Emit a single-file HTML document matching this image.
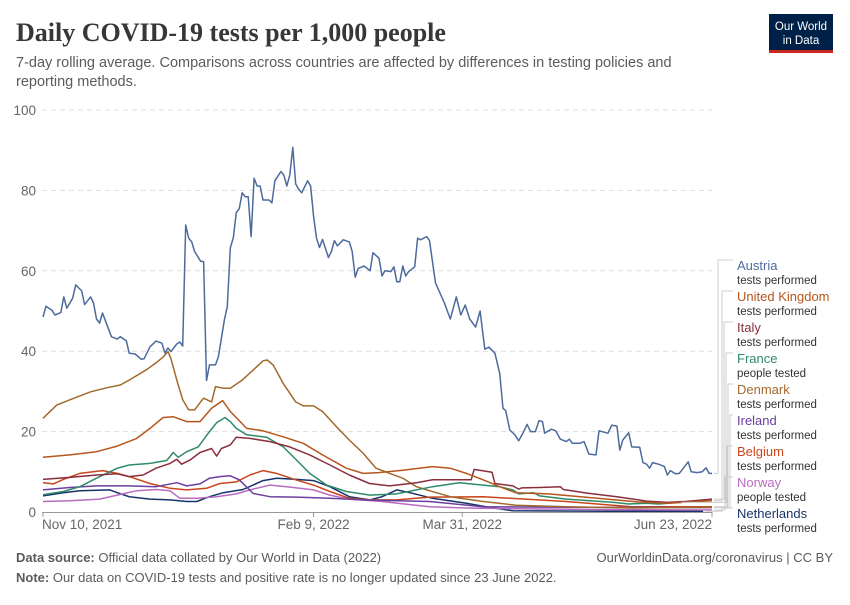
<!DOCTYPE html>
<html><head><meta charset="utf-8">
<style>
body{margin:0;width:850px;height:600px;background:#fff;font-family:"Liberation Sans",sans-serif;overflow:hidden}
svg text{font-family:"Liberation Sans",sans-serif}
</style></head>
<body>
<svg id="chart" width="850" height="600">
<text x="16" y="41" font-size="26" font-weight="bold" fill="#373737" style="font-family:'Liberation Serif',serif">Daily COVID-19 tests per 1,000 people</text>
<text x="16" y="67" font-size="14.5" fill="#5b5b5b">7-day rolling average. Comparisons across countries are affected by differences in testing policies and</text>
<text x="16" y="86" font-size="14.5" fill="#5b5b5b">reporting methods.</text>
<g>
<rect x="769" y="14" width="64" height="36" fill="#002147"/>
<rect x="769" y="50" width="64" height="3" fill="#ce261e"/>
<text x="801" y="30" font-size="11.5" fill="#fff" text-anchor="middle">Our World</text>
<text x="801" y="44" font-size="11.5" fill="#fff" text-anchor="middle">in Data</text>
</g>
<g id="grid"></g>
<g id="series"></g>
<g id="labels"></g>
<text x="16" y="562" font-size="13" fill="#5b5b5b"><tspan font-weight="bold">Data source:</tspan> Official data collated by Our World in Data (2022)</text>
<text x="833" y="562" font-size="13" fill="#5b5b5b" text-anchor="end">OurWorldinData.org/coronavirus | CC BY</text>
<text x="16" y="582" font-size="13" fill="#5b5b5b"><tspan font-weight="bold">Note:</tspan> Our data on COVID-19 tests and positive rate is no longer updated since 23 June 2022.</text>
</svg>
<script>
const yTicks=[0,20,40,60,80,100];
const xTickDays=[0,91,141,225];
const xTickLabels=["Nov 10, 2021","Feb 9, 2022","Mar 31, 2022","Jun 23, 2022"];
const seriesNames=["Austria","United Kingdom","Italy","France","Denmark","Ireland","Belgium","Norway","Netherlands"];
const seriesMetrics=["tests performed","tests performed","tests performed","people tested","tests performed","tests performed","tests performed","people tested","tests performed"];
const seriesColors=["#4c6a9c","#b5561d","#8b2e3c","#2e8b6a","#a2692d","#6b3fa0","#c8461b","#b86cc0","#18336a"];
const austriaDays=[0,1,3,4,6,7,8,10,11,13,14,16,17,18,19,20,23,25,26,28,29,31,33,34,36,38,40,41,42,43,45,46,47,48,49,50,51,53,54,55,56,58,59,61,62,63,64,65,66,67,68,69,70,71,72,73,74,76,77,78,80,81,82,83,84,85,86,87,89,90,91,92,93,94,96,97,98,99,101,103,104,105,106,108,110,111,113,114,115,117,118,119,120,121,122,123,125,126,127,129,130,132,135,137,139,140.5,142,143.5,145.5,147,148.6,150,152,153.6,154.7,155.6,157,158.7,160,161.4,162.8,164,165.6,166.8,168,168.7,171,172.4,174,176,177,178,180.5,182,183.6,186,187,190,191.3,193,194,195,197,198,200.7,201.8,203,204,205,207,209,210,211,212.7,214,217,218,220,221.7,223,224,225];
const austriaVals=[48.5,51.2,50.2,49,49.6,53.5,50.7,53.2,56.5,55,51.6,53.5,52,48,47,49.5,43.6,43,43.6,42.6,39.5,39.3,38,38.1,41.1,42.5,42,39.6,40.8,39.9,41.8,42.3,41.3,71.4,68.1,67.2,64.8,62.4,62.3,32.7,36.6,36.6,38.6,47.8,51.1,65.7,68.2,74.5,75.4,79.4,78.4,78.4,68.5,83,81.1,81.1,77.6,77.6,76.9,82.4,84.7,83.8,81.1,83.8,90.7,81.6,80.3,79.4,82.4,81.1,73.5,68.1,65.8,67.8,63.3,64.8,67.5,66.2,67.7,67.2,64.8,58.4,60.6,61.2,60,64.5,63.1,58.7,60,59.8,61,57.3,57.3,61.2,58.7,59.8,61,68.1,67.7,68.5,67.5,57,52,48,53.5,49,51.5,48,46,50,40.5,41,39.5,34.5,25.8,25.2,20.4,19.2,17.7,19.6,21.8,20,20,22.7,22.5,19.6,20.6,20.2,18.1,17.5,18.1,17.1,17.1,17.5,14.4,14.2,20.2,19.6,21.6,21.4,15.4,17.9,19.7,16.2,16.1,12.3,11.9,10.9,12.3,11.9,11.3,9.2,10.3,9.5,9.6,12.5,10,9.8,10,11,9.6,9.6];
const ukDays=[0,9,18,25,31.5,36,40.4,43.8,48.3,52.8,56.7,59,60.4,63,68.5,74,80.8,87.5,94,102,107.7,113,121,131,137,142.4,148,153.6,159,170,185,200,210,225];
const ukVals=[13.6,14.2,15,16.4,18.3,20.8,23.5,23.7,22.5,22.5,25.8,27,27.7,25,20.8,20.2,18.7,17.1,14.2,10.9,9.6,9.8,10.4,11.3,10.9,9.6,8,6.3,4.8,4.5,3.5,2.5,2.2,2.8];
const italyDays=[0,9,18,25,29,33.7,38,42.7,45,46.6,49.4,52.8,56.7,58.4,60,63,65,69.6,76.3,83,89.7,96.5,103,109.8,116.6,125.6,131,137,144,145,151,152,158,160,161,167,174,175,183,193,203,210,216,225];
const italyVals=[8.1,8.6,9.2,9.5,8.8,9.2,10.9,12.1,13.1,11.9,12.9,14.8,15.8,13.9,15.8,16.7,18.6,18.3,17.5,16.2,14.2,11.7,9.2,7.1,6.5,7.3,8,8,8,10.6,9.9,7.1,6.5,5.7,6,6.1,6.3,5.6,4.7,3.8,2.7,2.4,2.6,3.2];
const franceDays=[0,6.8,12.4,18,25,29,36,41.6,43.8,45.5,48.3,52.2,56,58.4,61.2,63,65,68.5,75.2,80.8,85.3,89.7,95.4,102,110,118.9,131,140,148,153.6,158,160,165,167,176,192,197,203,207,214];
const franceVals=[4.3,5.1,6.3,8.4,10.9,11.7,12.1,12.8,14.8,13.6,15,16.2,20,22.2,23.5,22.5,20.8,19.2,18.6,16.2,12.9,9.6,6.7,5.1,4.2,4.5,6.3,7.3,6.7,6.3,5.5,4.5,4.8,4,3.2,2.4,2,2.2,2,2.4];
const denmarkDays=[0,4.6,9,16,21.4,26,29,35,38,40.5,42,43,45,47,49,51,53,54,56.7,58,60.6,63,67,70.7,74,75.4,77.4,80.8,85,87.5,91,94,98.7,103,107.7,112,116.6,121,125.6,130,137,148,159,176,198,225];
const denmarkVals=[23.3,26.6,27.9,29.9,30.9,31.6,32.8,35.5,37.1,38.6,39.9,38.2,32.8,27.9,25.4,25.4,27.4,28.3,27.4,31.2,30.8,30.8,32.8,35.3,37.6,37.8,36.6,32,27.4,26.4,26.4,25,21.2,17.9,14.6,10.9,9.6,8.4,6.3,5.3,3.8,2.6,1.7,1.3,1,1.2];
const irelandDays=[0,9,18,29,38,45,48.3,52.8,56,59.5,63,66,70.7,76.3,85.3,96.5,107.7,119,130,148,176,225];
const irelandVals=[5.5,6.1,6.5,6.5,6.3,7.3,6.5,7,8.4,8.8,9,8,4.6,3.8,3.7,3.4,3,2.8,2.6,1.3,1.2,1.1];
const belgiumDays=[0,3.5,6.8,12.4,20,25,29,36,42.7,48.3,55,59.5,65,69.6,74,78.6,85,91,96.5,103,110,119,130,148,176,198,225];
const belgiumVals=[7.3,7,8.1,9.6,10.3,9.6,8.8,7.1,5.9,5.5,5.9,7.1,7.5,9.2,10.3,9.6,8,6.7,5.1,3.4,3,3,3.7,3.8,2.6,1.3,1.3];
const norwayDays=[0,9,19,25,31.5,38,42.7,46,51.7,58.4,65,69.6,76.3,82,91,96.5,103,114,130,142,160,190,225];
const norwayVals=[2.6,2.8,3.2,4.2,5.3,5.6,5.3,3.4,3.4,3.8,4.5,5.5,6.7,6.3,5.5,4.2,3.2,2.6,1.3,1,0.8,0.6,0.5];
const netherlandsDays=[0,6.8,12.4,22.5,25,29,36,42.7,48.3,51.7,56,60.6,67.3,74,78.6,85.3,91,96.5,103,110,114,119,123.4,131,142.4,149,158,190,222];
const netherlandsVals=[4,4.8,5.3,5.5,4.8,3.8,3.2,3,2.6,2.6,3.8,4.8,5.6,7.8,8.4,8.1,7.8,6.3,3.8,3,3.8,5.5,4.8,3.4,2.2,1.3,0.3,0.2,0.2];
const allDays=[austriaDays,ukDays,italyDays,franceDays,denmarkDays,irelandDays,belgiumDays,norwayDays,netherlandsDays];
const allVals=[austriaVals,ukVals,italyVals,franceVals,denmarkVals,irelandVals,belgiumVals,norwayVals,netherlandsVals];

const NS="http://www.w3.org/2000/svg";
const X0=43,X1=712,Y0=512,Y1=110,DMAX=225,VMAX=100;
function xs(d){return X0+d*(X1-X0)/DMAX;}
function ys(v){return Y0-v*(Y0-Y1)/VMAX;}
function mk(t,a,p){const e=document.createElementNS(NS,t);for(const k in a)e.setAttribute(k,a[k]);p.appendChild(e);return e;}
const grid=document.getElementById('grid');
yTicks.forEach(v=>{
  if(v>0){const l=mk('line',{x1:42,x2:X1,y1:ys(v),y2:ys(v),stroke:'#ddd','stroke-dasharray':'5,4'},grid);
  
  }
  const t=mk('text',{x:36,y:ys(v)+5,'font-size':13.5,fill:'#666','text-anchor':'end'},grid);
  t.textContent=v;
  
  
});
const ax=mk('line',{x1:42,x2:X1,y1:Y0+0.5,y2:Y0+0.5,stroke:'#999'},grid);


xTickDays.forEach((d,i)=>{
  const tk=mk('line',{x1:xs(d),x2:xs(d),y1:Y0,y2:Y0+5,stroke:'#999'},grid);
  
  
  const anchor=i==0?'start':(i==xTickDays.length-1?'end':'middle');
  const t=mk('text',{x:i==0?xs(d)-1:xs(d),y:529,'font-size':13.5,fill:'#666','text-anchor':anchor},grid);
  t.textContent=xTickLabels[i];
  
  
});
const sg=document.getElementById('series');
for(let s=allDays.length-1;s>=0;s--){
  const pts=allDays[s].map((d,i)=>xs(d).toFixed(1)+','+ys(allVals[s][i]).toFixed(1)).join(' ');
  const p=mk('polyline',{points:pts,fill:'none',stroke:seriesColors[s],'stroke-width':1.5,'stroke-linejoin':'round'},sg);
  
  
}
const lg=document.getElementById('labels');
const labelY=[265,296,327,358,389,420,451,482,513];
const colX=[718,722,724,726,728,730,727,725,722];
seriesNames.forEach((n,i)=>{
  const dd=allDays[i],vv=allVals[i];
  const ex=xs(dd[dd.length-1]),ey=ys(vv[vv.length-1]);
  const c=mk('polyline',{points:`${ex+2},${ey} ${colX[i]},${ey} ${colX[i]},${labelY[i]-5} 733,${labelY[i]-5}`,fill:'none',stroke:'#ccc','stroke-width':1},lg);
  
  
  const t=mk('text',{x:737,y:labelY[i]+5,'font-size':13,fill:seriesColors[i]},lg);
  t.textContent=n;
  
  
  const m=mk('text',{x:737,y:labelY[i]+19,'font-size':11.5,fill:'#333'},lg);
  m.textContent=seriesMetrics[i];
  
  
});
</script>
</body></html>
